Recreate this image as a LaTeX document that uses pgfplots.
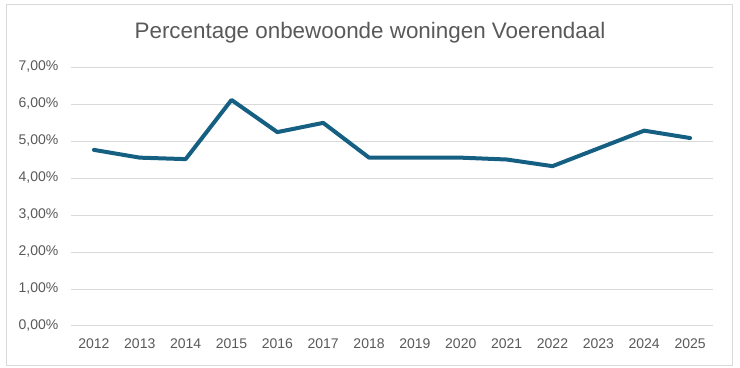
\documentclass[border=0pt]{standalone}
\usepackage{pgfplots}
\pgfplotsset{compat=1.18}
\usepackage{fontspec}
\setmainfont{Liberation Sans}
\definecolor{linec}{HTML}{156082}
\definecolor{gridc}{HTML}{D9D9D9}
\definecolor{textc}{HTML}{595959}
\begin{document}
\begin{tikzpicture}[x=1pt,y=1pt]
\useasboundingbox (0,0) rectangle (555,276);
\draw[gridc, line width=0.75pt] (4.5,1.5) rectangle (549,272.25);
\node[text=textc, font=\fontsize{16.8}{20}\selectfont] at (277.5,251.25) {Percentage onbewoonde woningen Voerendaal};
\begin{axis}[
  at={(53.25pt,31.5pt)}, anchor=south west,
  scale only axis, width=481.5pt, height=194.25pt,
  xmin=-0.5, xmax=13.5, ymin=0, ymax=7,
  xtick={0,...,13},
  xticklabels={2012,2013,2014,2015,2016,2017,2018,2019,2020,2021,2022,2023,2024,2025},
  ytick={0,1,...,7},
  yticklabel={\pgfmathprintnumber[fixed,fixed zerofill,precision=2,use comma,assume math mode=true]{\tick}\%},
  tick label style={text=textc, font=\fontsize{10.5}{12}\selectfont},
  /pgf/number format/assume math mode=true,
  ymajorgrids, grid style={gridc, line width=0.75pt},
  axis line style={draw=none},
  major tick length=0pt,
  axis x line*=bottom, axis y line*=left,
  x axis line style={draw=gridc, line width=0.75pt},
  yticklabel style={xshift=-6pt},
  xticklabel style={yshift=-6pt},
]
\addplot[linec, line width=3pt, line join=round, line cap=round, mark=none] coordinates {
(0,4.76) (1,4.55) (2,4.51) (3,6.11) (4,5.24) (5,5.49) (6,4.55) (7,4.55) (8,4.55) (9,4.50) (10,4.32) (11,4.80) (12,5.28) (13,5.08)
};
\end{axis}
\end{tikzpicture}
\end{document}
